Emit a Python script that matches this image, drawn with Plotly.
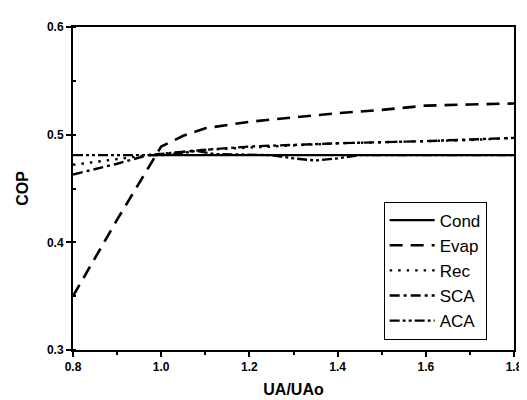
import plotly.graph_objects as go

# Data
cond_x = [0.97, 1.0, 1.2, 1.4, 1.6, 1.8]
cond_y = [0.481, 0.481, 0.481, 0.481, 0.481, 0.481]

evap_x = [0.8, 0.9, 1.0, 1.05, 1.1, 1.2, 1.3, 1.4, 1.5, 1.6, 1.7, 1.8]
evap_y = [0.350, 0.421, 0.489, 0.499, 0.506, 0.512, 0.516, 0.520, 0.523, 0.527, 0.528, 0.529]

rec_x = [0.8, 0.9, 0.97, 1.1, 1.2, 1.3, 1.4, 1.5, 1.6, 1.7, 1.8]
rec_y = [0.472, 0.477, 0.481, 0.486, 0.488, 0.490, 0.492, 0.493, 0.494, 0.495, 0.497]

sca_x = [0.8, 0.9, 0.97, 1.05, 1.1, 1.2, 1.4, 1.6, 1.8]
sca_y = [0.463, 0.473, 0.481, 0.484, 0.486, 0.489, 0.492, 0.494, 0.497]

aca_x = [0.8, 1.0, 1.05, 1.08, 1.12, 1.25, 1.3, 1.35, 1.4, 1.45, 1.6, 1.8]
aca_y = [0.481, 0.481, 0.483, 0.485, 0.482, 0.481, 0.478, 0.476, 0.478, 0.481, 0.481, 0.481]

x_ticks = [0.8, 1.0, 1.2, 1.4, 1.6, 1.8]
y_ticks = [0.3, 0.4, 0.5, 0.6]

series = [
    ("Cond", cond_x, cond_y, "solid", 2.2),
    ("Evap", evap_x, evap_y, "13px,8px", 2.6),
    ("Rec", rec_x, rec_y, "2.5px,6px", 2.4),
    ("SCA", sca_x, sca_y, "10px,4px,3px,4px", 2.4),
    ("ACA", aca_x, aca_y, "10px,3px,3px,3px,3px,3px", 2.4),
]

fig = go.Figure()
for name, xs, ys, dash, w in series:
    fig.add_trace(go.Scatter(x=xs, y=ys, mode="lines", name=name,
                             line=dict(color="black", width=w, dash=dash)))

fig.update_layout(
    width=527, height=400,
    margin=dict(l=65, r=12, t=16, b=54),
    paper_bgcolor="white", plot_bgcolor="white",
    font=dict(family="Arial, Liberation Sans", color="black"),
    showlegend=True,
    legend=dict(x=0.938, xanchor="right", y=0.032, yanchor="bottom",
                bordercolor="black", borderwidth=1, bgcolor="white",
                font=dict(size=17, family="Arial, Liberation Sans", color="black"),
                itemwidth=45, tracegroupgap=0),
    xaxis=dict(range=[0.8, 1.8], tickvals=x_ticks, ticktext=[f"<b>{v:.1f}</b>" for v in x_ticks],
               showline=True, linecolor="black", linewidth=2, mirror=True,
               ticks="outside", ticklen=5, tickwidth=1.5, tickcolor="black",
               minor=dict(dtick=0.1, ticks="outside", ticklen=3, tickcolor="black"),
               showgrid=False, zeroline=False,
               tickfont=dict(family="Arial, Liberation Sans", size=12, color="black"),
               title=dict(text="<b>UA/UAo</b>", font=dict(size=16, color="black"), standoff=10)),
    yaxis=dict(range=[0.3, 0.6], tickvals=y_ticks, ticktext=[f"<b>{v:.1f}</b>" for v in y_ticks],
               showline=True, linecolor="black", linewidth=2, mirror=True,
               ticks="outside", ticklen=5, tickwidth=1.5, tickcolor="black",
               minor=dict(dtick=0.05, ticks="inside", ticklen=3, tickcolor="black"),
               showgrid=False, zeroline=False,
               tickfont=dict(family="Arial, Liberation Sans", size=12, color="black"),
               title=dict(text="<b>COP</b>", font=dict(size=16, color="black"), standoff=14)),
)

fig.write_html("out.html")
